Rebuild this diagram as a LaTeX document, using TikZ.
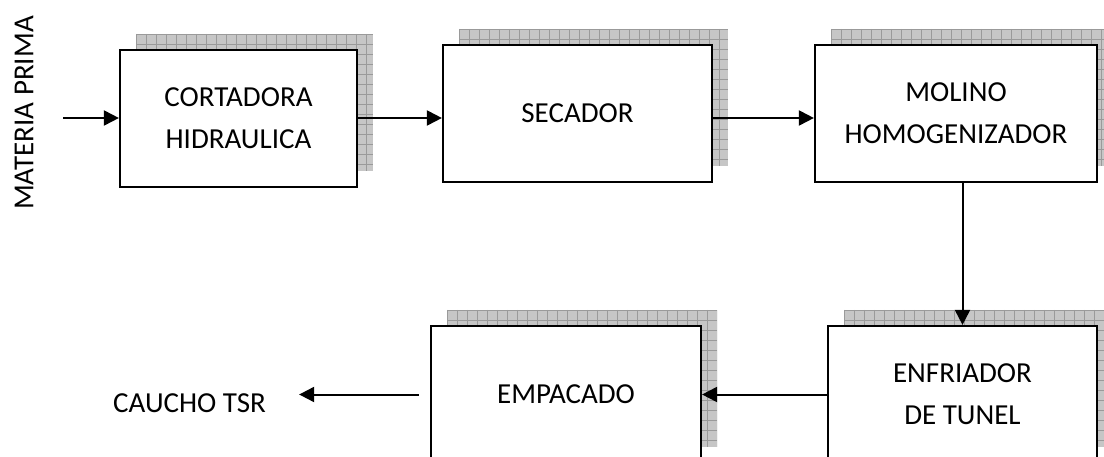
\documentclass[tikz,border=0pt]{standalone}
\usepackage{fontspec}
\setmainfont{Carlito}
\usetikzlibrary{arrows.meta,calc}
\definecolor{shgray}{HTML}{C6C6C6}
\definecolor{shline}{HTML}{9A9A9A}
\tikzset{
  procbox/.style={draw, line width=2.2pt, fill=white, align=center, inner sep=0pt,
    minimum height=137pt, font=\fontsize{29}{42}\selectfont},
  shadowbox/.style={fill=shgray, draw=none, inner sep=0pt, minimum height=137pt,
    path picture={
      \foreach \i in {0,10,...,300}{
        \draw[shline, line width=0.7pt] ([xshift=\i pt]path picture bounding box.north west) -- ([xshift=\i pt]path picture bounding box.south west);
        \draw[shline, line width=0.7pt] ([yshift=-\i pt]path picture bounding box.north west) -- ([yshift=-\i pt]path picture bounding box.north east);
      }}},
  txt/.style={inner sep=0pt, font=\fontsize{29}{42}\selectfont},
  arr/.style={line width=2pt, -{Triangle[length=15pt,width=15pt]}}
}
\begin{document}
\begin{tikzpicture}[x=1pt,y=-1pt]
\useasboundingbox (0,0) rectangle (1104,457);
\clip (0,0) rectangle (1104,457);
\fill[white] (0,0) rectangle (1104,457);
% shadows
\node[shadowbox, minimum width=237pt] (s1) at (254.5,102.5) {};
\node[shadowbox, minimum width=269pt] (s2) at (593.5,97.5) {};
\node[shadowbox, minimum width=282pt] (s3) at (972,97.5) {};
\node[shadowbox, minimum width=270pt] (s4) at (582,378.5) {};
\node[shadowbox, minimum width=269pt] (s5) at (978.5,378.5) {};
% boxes
\node[procbox, minimum width=237pt] (b1) at (238.5,118.5) {CORTADORA\\HIDRAULICA};
\node[procbox, minimum width=269pt] (b2) at (577.5,113.5) {SECADOR};
\node[procbox, minimum width=282pt] (b3) at (956,113.5) {MOLINO\\HOMOGENIZADOR};
\node[procbox, minimum width=270pt] (b4) at (566,394.5) {EMPACADO};
\node[procbox, minimum width=269pt] (b5) at (962.5,394.5) {ENFRIADOR\\DE TUNEL};
% labels
\node[txt, rotate=90] (mp) at (24,113) {MATERIA PRIMA};
\node[txt, anchor=base west] (ct) at (113,412) {CAUCHO TSR};
\coordinate (in) at (63,118);
% connectors
\draw[arr] (in) -- (in -| b1.west);
\draw[arr] (in -| b1.east) -- (in -| b2.west);
\draw[arr] (in -| b2.east) -- (in -| b3.west);
\draw[arr] (b3.south -| b5.north) -- (b5.north);
\draw[arr] (b5.west) -- (b4.east);
\draw[arr] ([xshift=-11pt]b4.west) -- ([xshift=33pt]ct.east |- b4.west);
\end{tikzpicture}
\end{document}
